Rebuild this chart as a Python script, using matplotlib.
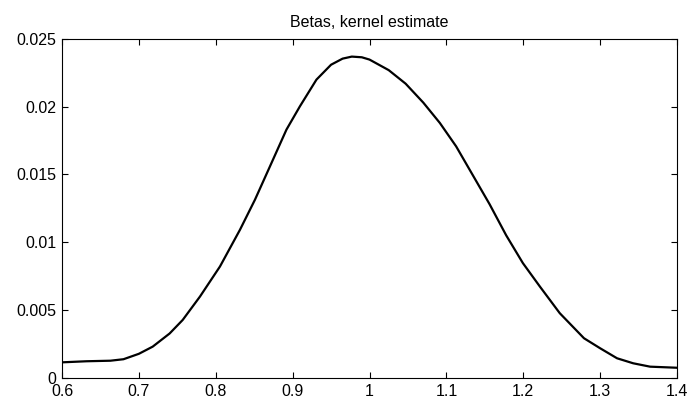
import matplotlib
matplotlib.use('Agg')
from matplotlib import pyplot as plt

# kernel density estimate of betas
beta = [0.6, 0.632, 0.663, 0.68, 0.7, 0.718, 0.74, 0.757, 0.7795, 0.8055,
        0.8315, 0.851, 0.8705, 0.892, 0.9095, 0.931, 0.95, 0.965, 0.977, 0.99,
        1.0, 1.025, 1.047, 1.07, 1.0915, 1.1127, 1.1343, 1.1562, 1.1778, 1.1995,
        1.2216, 1.2475, 1.279, 1.3, 1.322, 1.343, 1.365, 1.4]
density = [0.00112, 0.0012, 0.00124, 0.00135, 0.00175, 0.00228, 0.00325, 0.00425, 0.00598, 0.0082,
           0.01091, 0.01313, 0.01559, 0.01831, 0.02003, 0.0220, 0.0231, 0.02355, 0.0237, 0.02365,
           0.02348, 0.0227, 0.0217, 0.0203, 0.0188, 0.01707, 0.01495, 0.0128, 0.0105, 0.00845,
           0.00672, 0.00475, 0.0029, 0.00216, 0.00142, 0.00105, 0.0008, 0.00072]

xticks = [0.6, 0.7, 0.8, 0.9, 1.0, 1.1, 1.2, 1.3, 1.4]
xlabels = ['0.6', '0.7', '0.8', '0.9', '1', '1.1', '1.2', '1.3', '1.4']
yticks = [0, 0.005, 0.01, 0.015, 0.02, 0.025]
ylabels = ['0', '0.005', '0.01', '0.015', '0.02', '0.025']

plt.rcParams['font.family'] = ['Liberation Sans', 'DejaVu Sans']
plt.rcParams['font.size'] = 11.5

fig = plt.figure(figsize=(6.92, 4.04), dpi=100)
ax = fig.add_axes([62 / 692, 1 - 377.5 / 404, 615 / 692, 338.5 / 404])

ax.plot(beta, density, color='black', linewidth=1.6, solid_joinstyle='round')

ax.set_xlim(0.6, 1.4)
ax.set_ylim(0, 0.025)
ax.set_xticks(xticks)
ax.set_xticklabels(xlabels)
ax.set_yticks(yticks)
ax.set_yticklabels(ylabels)
ax.tick_params(direction='in', length=4, width=0.8, top=True, right=True, pad=4)
ax.tick_params(axis='x', pad=5)
for s in ax.spines.values():
    s.set_linewidth(0.8)

ax.set_title('Betas, kernel estimate', fontsize=11.5, pad=9)

fig.savefig('out.png', dpi=100)
